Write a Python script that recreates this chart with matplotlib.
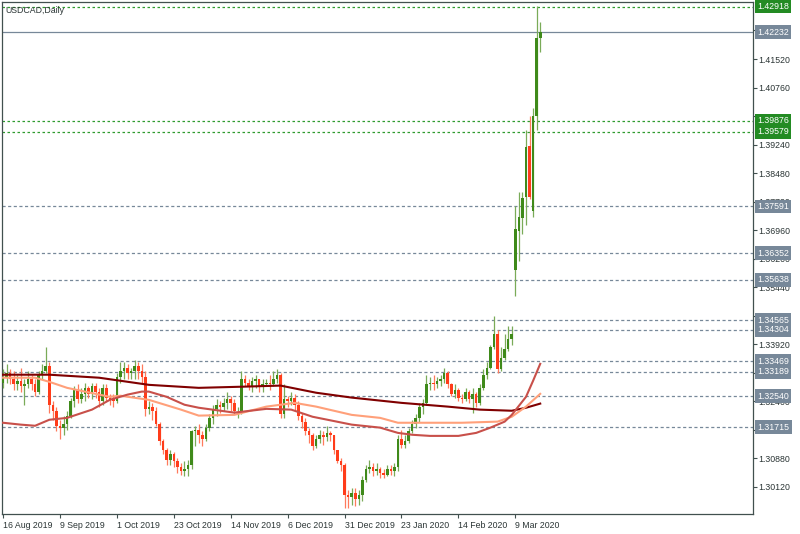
import numpy as np
import matplotlib
matplotlib.use("Agg")
import matplotlib.pyplot as plt
import matplotlib.transforms as mtransforms

# ---- USDCAD daily candles (16 Aug 2019 .. 18 Mar 2020) ----
opens = [1.3290, 1.3305, 1.3315, 1.3300, 1.3285, 1.3295, 1.3280, 1.3285, 1.3300, 1.3285,
         1.3265, 1.3310, 1.3320, 1.3335, 1.3230, 1.3215, 1.3175, 1.3170, 1.3180, 1.3200,
         1.3240, 1.3270, 1.3245, 1.3260, 1.3275, 1.3260, 1.3280, 1.3265, 1.3240, 1.3275,
         1.3250, 1.3245, 1.3240, 1.3305, 1.3320, 1.3330, 1.3315, 1.3320, 1.3335, 1.3320,
         1.3305, 1.3220, 1.3225, 1.3215, 1.3180, 1.3135, 1.3110, 1.3085, 1.3100, 1.3080,
         1.3065, 1.3055, 1.3060, 1.3070, 1.3160, 1.3165, 1.3150, 1.3140, 1.3170, 1.3195,
         1.3220, 1.3230, 1.3225, 1.3235, 1.3245, 1.3235, 1.3215, 1.3215, 1.3300, 1.3290,
         1.3280, 1.3295, 1.3300, 1.3280, 1.3285, 1.3290, 1.3285, 1.3300, 1.3310, 1.3205,
         1.3245, 1.3240, 1.3250, 1.3230, 1.3200, 1.3185, 1.3160, 1.3150, 1.3120, 1.3140,
         1.3150, 1.3145, 1.3155, 1.3150, 1.3110, 1.3080, 1.3070, 1.2990, 1.2985, 1.2995,
         1.2980, 1.2990, 1.3030, 1.3060, 1.3065, 1.3055, 1.3060, 1.3050, 1.3045, 1.3060,
         1.3055, 1.3065, 1.3140, 1.3125, 1.3135, 1.3160, 1.3180, 1.3195, 1.3225, 1.3235,
         1.3285, 1.3290, 1.3285, 1.3295, 1.3300, 1.3315, 1.3285, 1.3260, 1.3270, 1.3250,
         1.3245, 1.3265, 1.3245, 1.3260, 1.3235, 1.3275, 1.3310, 1.3330, 1.3385, 1.3420,
         1.3325, 1.3355, 1.3380, 1.3405, 1.3590, 1.3693, 1.3728, 1.3784, 1.3920, 1.3746,
         1.4000, 1.4208]

highs = [1.3325, 1.3340, 1.3325, 1.3320, 1.3310, 1.3330, 1.3300, 1.3320, 1.3310, 1.3300,
         1.3320, 1.3340, 1.3385, 1.3345, 1.3240, 1.3225, 1.3190, 1.3200, 1.3215, 1.3250,
         1.3280, 1.3285, 1.3275, 1.3290, 1.3280, 1.3290, 1.3290, 1.3275, 1.3285, 1.3285,
         1.3260, 1.3260, 1.3315, 1.3345, 1.3345, 1.3340, 1.3330, 1.3350, 1.3345, 1.3340,
         1.3320, 1.3240, 1.3235, 1.3225, 1.3185, 1.3140, 1.3115, 1.3110, 1.3105, 1.3090,
         1.3075, 1.3080, 1.3085, 1.3165, 1.3175, 1.3180, 1.3160, 1.3180, 1.3205, 1.3230,
         1.3245, 1.3240, 1.3250, 1.3265, 1.3255, 1.3245, 1.3225, 1.3320, 1.3310, 1.3300,
         1.3305, 1.3310, 1.3300, 1.3300, 1.3300, 1.3310, 1.3320, 1.3325, 1.3315, 1.3285,
         1.3255, 1.3265, 1.3260, 1.3240, 1.3210, 1.3195, 1.3170, 1.3155, 1.3150, 1.3165,
         1.3160, 1.3175, 1.3160, 1.3150, 1.3110, 1.3090, 1.3075, 1.3005, 1.3010, 1.3010,
         1.3005, 1.3040, 1.3070, 1.3085, 1.3075, 1.3075, 1.3065, 1.3060, 1.3070, 1.3070,
         1.3075, 1.3150, 1.3165, 1.3150, 1.3170, 1.3190, 1.3205, 1.3235, 1.3245, 1.3310,
         1.3305, 1.3310, 1.3305, 1.3310, 1.3330, 1.3320, 1.3290, 1.3285, 1.3275, 1.3260,
         1.3275, 1.3270, 1.3275, 1.3265, 1.3285, 1.3325, 1.3345, 1.3390, 1.3468, 1.3430,
         1.3385, 1.3420, 1.3440, 1.3440, 1.3760, 1.3797, 1.3797, 1.3962, 1.4000, 1.4021,
         1.4292, 1.4251]

lows = [1.3275, 1.3290, 1.3285, 1.3270, 1.3270, 1.3265, 1.3230, 1.3275, 1.3270, 1.3255,
        1.3260, 1.3300, 1.3315, 1.3210, 1.3190, 1.3160, 1.3140, 1.3150, 1.3165, 1.3195,
        1.3225, 1.3235, 1.3235, 1.3240, 1.3250, 1.3245, 1.3250, 1.3225, 1.3230, 1.3240,
        1.3230, 1.3225, 1.3235, 1.3290, 1.3300, 1.3300, 1.3300, 1.3300, 1.3300, 1.3290,
        1.3200, 1.3205, 1.3190, 1.3175, 1.3125, 1.3100, 1.3070, 1.3070, 1.3065, 1.3050,
        1.3045, 1.3040, 1.3040, 1.3060, 1.3120, 1.3130, 1.3120, 1.3135, 1.3160, 1.3180,
        1.3200, 1.3210, 1.3215, 1.3220, 1.3215, 1.3205, 1.3195, 1.3205, 1.3280, 1.3270,
        1.3265, 1.3275, 1.3265, 1.3265, 1.3280, 1.3270, 1.3280, 1.3290, 1.3195, 1.3195,
        1.3225, 1.3230, 1.3215, 1.3190, 1.3170, 1.3150, 1.3130, 1.3110, 1.3115, 1.3130,
        1.3125, 1.3135, 1.3135, 1.3100, 1.3075, 1.3055, 1.2955, 1.2955, 1.2965, 1.2960,
        1.2965, 1.2975, 1.3025, 1.3050, 1.3040, 1.3045, 1.3035, 1.3035, 1.3040, 1.3045,
        1.3040, 1.3055, 1.3115, 1.3115, 1.3130, 1.3155, 1.3170, 1.3185, 1.3205, 1.3230,
        1.3270, 1.3270, 1.3275, 1.3280, 1.3290, 1.3275, 1.3255, 1.3250, 1.3240, 1.3235,
        1.3240, 1.3235, 1.3210, 1.3225, 1.3230, 1.3270, 1.3300, 1.3325, 1.3380, 1.3315,
        1.3320, 1.3350, 1.3375, 1.3390, 1.3520, 1.3613, 1.3685, 1.3709, 1.3780, 1.3730,
        1.3962, 1.4171]

closes = [1.3305, 1.3315, 1.3300, 1.3285, 1.3295, 1.3280, 1.3285, 1.3300, 1.3285, 1.3265,
          1.3310, 1.3320, 1.3335, 1.3230, 1.3215, 1.3175, 1.3170, 1.3180, 1.3200, 1.3240,
          1.3270, 1.3245, 1.3260, 1.3275, 1.3260, 1.3280, 1.3265, 1.3240, 1.3275, 1.3250,
          1.3245, 1.3240, 1.3305, 1.3320, 1.3330, 1.3315, 1.3320, 1.3335, 1.3320, 1.3305,
          1.3220, 1.3225, 1.3215, 1.3180, 1.3135, 1.3110, 1.3085, 1.3100, 1.3080, 1.3065,
          1.3055, 1.3060, 1.3070, 1.3160, 1.3165, 1.3150, 1.3140, 1.3170, 1.3195, 1.3220,
          1.3230, 1.3225, 1.3235, 1.3245, 1.3235, 1.3215, 1.3215, 1.3300, 1.3290, 1.3280,
          1.3295, 1.3300, 1.3280, 1.3285, 1.3290, 1.3285, 1.3300, 1.3310, 1.3205, 1.3245,
          1.3240, 1.3250, 1.3230, 1.3200, 1.3185, 1.3160, 1.3150, 1.3120, 1.3140, 1.3150,
          1.3145, 1.3155, 1.3150, 1.3110, 1.3080, 1.3070, 1.2990, 1.2985, 1.2995, 1.2980,
          1.2990, 1.3030, 1.3060, 1.3065, 1.3055, 1.3060, 1.3050, 1.3045, 1.3060, 1.3055,
          1.3065, 1.3140, 1.3125, 1.3135, 1.3160, 1.3180, 1.3195, 1.3225, 1.3235, 1.3285,
          1.3290, 1.3285, 1.3295, 1.3300, 1.3315, 1.3285, 1.3260, 1.3270, 1.3250, 1.3245,
          1.3265, 1.3245, 1.3260, 1.3235, 1.3275, 1.3310, 1.3330, 1.3385, 1.3420, 1.3325,
          1.3355, 1.3380, 1.3405, 1.3420, 1.3698, 1.3730, 1.3781, 1.3917, 1.3784, 1.4000,
          1.4208, 1.4223]

# moving averages (bar index, price)
ma_slow_bars = [0, 13, 27, 41, 55, 67, 78, 88, 98, 112, 125, 134, 143, 147, 151]
ma_slow = [1.3311, 1.3311, 1.3303, 1.3284, 1.3276, 1.3279, 1.3282, 1.3263, 1.3250,
           1.3236, 1.3226, 1.3218, 1.3215, 1.3223, 1.3234]

ma_mid_bars = [0, 9, 13, 18, 27, 30, 33, 41, 50, 55, 65, 74, 82, 88, 98, 106, 111,
               120, 129, 139, 143, 147, 151]
ma_mid = [1.3303, 1.3303, 1.3292, 1.3276, 1.3258, 1.3252, 1.3255, 1.3244, 1.3218, 1.3202,
          1.3204, 1.3226, 1.3236, 1.3226, 1.3204, 1.3196, 1.3183, 1.3183, 1.3183, 1.3186,
          1.3199, 1.3226, 1.3260]

ma_fast_bars = [0, 5, 9, 13, 18, 25, 30, 35, 39, 41, 46, 51, 55, 65, 74, 81, 87, 98, 106,
                111, 115, 120, 128, 133, 137, 141, 143, 147, 149, 151]
ma_fast = [1.3183, 1.3178, 1.3175, 1.3191, 1.3196, 1.3218, 1.3244, 1.3258, 1.3266, 1.3266,
           1.3252, 1.3231, 1.3223, 1.3210, 1.3220, 1.3218, 1.3199, 1.3178, 1.3170, 1.3156,
           1.3151, 1.3148, 1.3148, 1.3156, 1.3170, 1.3186, 1.3204, 1.3252, 1.3295, 1.3340]

green_levels = [1.42918, 1.39876, 1.39579]
gray_levels = [1.37591, 1.36352, 1.35638, 1.34565, 1.34304, 1.33469, 1.33189, 1.32540, 1.31715]
last_price = 1.42232

price_ticks = [1.30120, 1.30880, 1.31640, 1.32400, 1.33160, 1.33920, 1.34680, 1.35440,
               1.36200, 1.36960, 1.37720, 1.38480, 1.39240, 1.40000, 1.40760, 1.41520, 1.42280]
date_labels = ["16 Aug 2019", "9 Sep 2019", "1 Oct 2019", "23 Oct 2019", "14 Nov 2019",
               "6 Dec 2019", "31 Dec 2019", "23 Jan 2020", "14 Feb 2020", "9 Mar 2020"]
date_bars = [0, 16, 32, 48, 64, 80, 96, 112, 128, 144]

GREEN = "#3f8a1a"
RED = "#ff3c1a"
GRAY = "#778899"
LINE_GREEN = "#2e9b2e"
FRAME = "#41504f"
TXT = "#2b3535"

plt.rcParams['font.family'] = ['Liberation Sans', 'DejaVu Sans']

fig = plt.figure(figsize=(8, 5.34), dpi=100)
ax = fig.add_axes([0.0025, 0.0375, 0.9387, 0.9585])

o = np.array(opens)
h = np.array(highs)
l = np.array(lows)
c = np.array(closes)
x = np.arange(len(c))
up = c >= o

# horizontal levels
for lv in green_levels:
    ax.axhline(lv, color=LINE_GREEN, lw=0.9, ls=(0, (2, 2)), zorder=1)
for lv in gray_levels:
    ax.axhline(lv, color=GRAY, lw=0.9, ls=(0, (2.5, 2)), zorder=1)
ax.axhline(last_price, color=GRAY, lw=0.9, zorder=1)

# candles
ax.vlines(x[up], l[up], h[up], color="#7aab58", lw=0.9, zorder=3)
ax.vlines(x[~up], l[~up], h[~up], color="#ff7a5c", lw=0.9, zorder=3)
body_low = np.minimum(o, c)
body_h = np.maximum(np.abs(c - o), 0.00005)
ax.bar(x, body_h, bottom=body_low, width=0.72,
       color=np.where(up, GREEN, RED), linewidth=0, zorder=4)

# moving averages
ax.plot(ma_slow_bars, ma_slow, color="#800000", lw=1.5, zorder=5)
ax.plot(ma_mid_bars, ma_mid, color="#ffa07a", lw=1.5, zorder=5)
ax.plot(ma_fast_bars, ma_fast, color="#c8504a", lw=1.5, zorder=5)

ax.set_xlim(-0.3, 210.8)
ax.set_ylim(1.29400, 1.43035)

# axes styling
for sp in ax.spines.values():
    sp.set_color(FRAME)
    sp.set_linewidth(0.9)
ax.yaxis.tick_right()
ax.set_yticks(price_ticks)
ax.set_yticklabels([f"{v:.5f}" for v in price_ticks])
ax.set_xticks(date_bars)
ax.set_xticklabels(date_labels, ha="left")
ax.tick_params(axis="both", direction="out", length=3, width=0.8, color=FRAME,
               labelsize=6.3, labelcolor=TXT, pad=1)
ax.tick_params(axis="x", pad=2)

# price boxes on the right scale
trans = mtransforms.blended_transform_factory(ax.transAxes, ax.transData)
for lv in green_levels:
    ax.text(1.0055, lv, f"{lv:.5f}", transform=trans, ha="left", va="center",
            fontsize=6.3, color="white", clip_on=False, zorder=10,
            bbox=dict(boxstyle="square,pad=0.28", fc="#238b23", ec="none"))
for lv in gray_levels + [last_price]:
    ax.text(1.0055, lv, f"{lv:.5f}", transform=trans, ha="left", va="center",
            fontsize=6.3, color="white", clip_on=False, zorder=10,
            bbox=dict(boxstyle="square,pad=0.28", fc=GRAY, ec="none"))

ax.text(0.004, 0.992, "USDCAD,Daily", transform=ax.transAxes, ha="left", va="top",
        fontsize=6.3, color=TXT, zorder=10)

fig.savefig("out.png", dpi=100, facecolor="white")
